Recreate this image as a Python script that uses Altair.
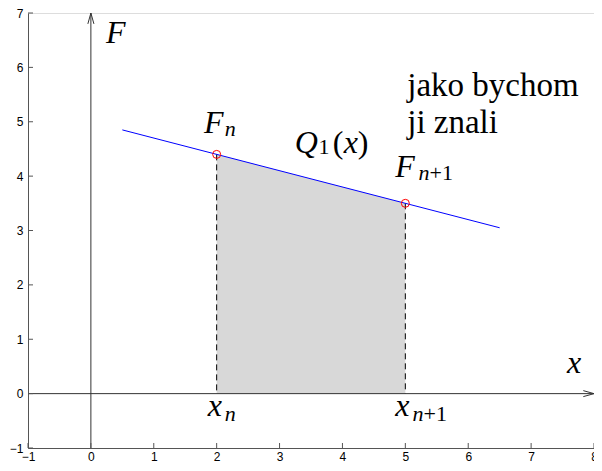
import altair as alt
import pandas as pd

# axis ranges and ticks
x_domain = [-1, 8]
y_domain = [-1, 7]
x_ticks = [-1, 0, 1, 2, 3, 4, 5, 6, 7, 8]
y_ticks = [-1, 0, 1, 2, 3, 4, 5, 6, 7]

# interpolating line Q1(x)
line_x = [0.5, 6.5]
line_y = [4.85, 3.05]

# nodes (x_n, F_n), (x_{n+1}, F_{n+1})
node_x = [2, 5]
node_y = [4.4, 3.5]

# coordinate arrows (shaft + open head), in data units
arrow_group = ["xs", "xs", "xh", "xh", "xh", "ys", "ys", "yh", "yh", "yh"]
arrow_order = [0, 1, 0, 1, 2, 0, 1, 0, 1, 2]
arrow_x = [-1, 8, 7.83, 8, 7.83, 0, 0, 0.048, 0, -0.048]
arrow_y = [0, 0, 0.055, 0, -0.055, -1, 7, 6.8, 7, 6.8]

# annotation pieces (italic)
it_text = ["F", "F", "n", "Q", "x", "F", "n", "x", "x", "n", "x", "n"]
it_x = [0.24, 1.80, 2.13, 3.24, 4.02, 4.84, 5.21, 7.57, 1.857, 2.13, 4.84, 5.115]
it_y = [6.44, 4.80, 4.73, 4.43, 4.43, 3.98, 3.92, 0.384, -0.42, -0.51, -0.42, -0.51]
it_size = [32, 32, 22, 32, 32, 32, 22, 32, 32, 22, 32, 22]

# annotation pieces (upright)
rm_text = ["1", "(", ")", "+1", "+1", "jako bychom", "ji znali"]
rm_x = [3.62, 3.845, 4.242, 5.385, 5.29, 5.03, 5.03]
rm_y = [4.41, 4.43, 4.43, 3.92, -0.51, 5.47, 4.80]
rm_size = [22, 32, 32, 22, 22, 33, 33]

W, H = 566, 435

xs = alt.Scale(domain=x_domain, nice=False, zero=False)
ys = alt.Scale(domain=y_domain, nice=False, zero=False)
common = dict(ticks=False, grid=False, labelFlush=False, labelOverlap=False,
              labelBound=False, domainColor="#555555", labelFont="Liberation Sans",
              labelFontSize=12, labelColor="black", title=None)
xaxis = alt.Axis(values=x_ticks, labelPadding=3, **common)
yaxis = alt.Axis(values=y_ticks, labelPadding=5, **common)

X = alt.X("x:Q", scale=xs, axis=xaxis)
Y = alt.Y("y:Q", scale=ys, axis=yaxis)

area_df = pd.DataFrame({"x": node_x, "y": node_y, "y2": [0, 0]})
area = alt.Chart(area_df).mark_area(color="#d8d8d8", opacity=1).encode(
    x=X, y=Y, y2="y2:Q")

dash = alt.Chart(area_df).mark_rule(color="black", strokeDash=[6, 4], strokeWidth=1).encode(
    x=X, y=Y, y2="y2:Q")

arrow_df = pd.DataFrame({"x": arrow_x, "y": arrow_y, "g": arrow_group, "o": arrow_order})
arrows = alt.Chart(arrow_df).mark_line(color="#333333", strokeWidth=1).encode(
    x=X, y=Y, detail="g:N", order="o:Q")

line_df = pd.DataFrame({"x": line_x, "y": line_y})
line = alt.Chart(line_df).mark_line(color="#0000ff", strokeWidth=1).encode(x=X, y=Y)

node_df = pd.DataFrame({"x": node_x, "y": node_y})
nodes = alt.Chart(node_df).mark_point(shape="circle", color="#ff0000", filled=False,
                                      size=64, strokeWidth=1, opacity=1).encode(x=X, y=Y)

it_df = pd.DataFrame({"x": it_x, "y": it_y, "t": it_text, "s": it_size})
it_txt = alt.Chart(it_df).mark_text(font="Liberation Serif", fontStyle="italic",
                                    align="left", baseline="alphabetic", color="black").encode(
    x=X, y=Y, text="t:N", size=alt.Size("s:Q", scale=None, legend=None))

rm_df = pd.DataFrame({"x": rm_x, "y": rm_y, "t": rm_text, "s": rm_size})
rm_txt = alt.Chart(rm_df).mark_text(font="Liberation Serif",
                                    align="left", baseline="alphabetic", color="black").encode(
    x=X, y=Y, text="t:N", size=alt.Size("s:Q", scale=None, legend=None))

xt_df = pd.DataFrame({"x": x_ticks})
xt = alt.Chart(xt_df).mark_rule(color="#555555", strokeWidth=1).encode(
    x=X, y=alt.value(H), y2=alt.value(H - 5))

yt_df = pd.DataFrame({"y": y_ticks})
yt = alt.Chart(yt_df).mark_rule(color="#555555", strokeWidth=1).encode(
    y=Y, x=alt.value(0), x2=alt.value(5))

chart = alt.layer(area, dash, arrows, line, nodes, it_txt, rm_txt, xt, yt).properties(
    width=W, height=H,
    autosize=alt.AutoSizeParams(type="none"),
    padding={"left": 20, "top": 5, "right": 0, "bottom": 15},
).configure_view(stroke=None).configure(background="white")

chart.save("out.html", embed_options={"renderer": "svg", "actions": False})
